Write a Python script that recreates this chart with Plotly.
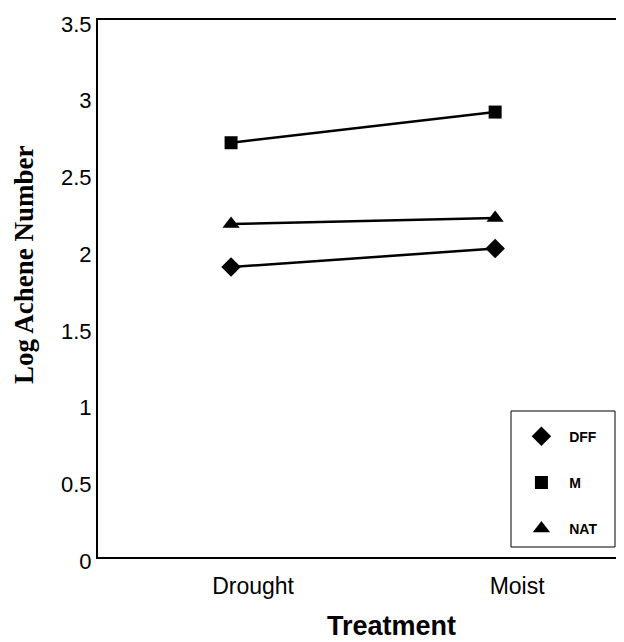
import plotly.graph_objects as go

treatments = ["Drought", "Moist"]
series_names = ["DFF", "M", "NAT"]
dff_values = [1.89, 2.01]
m_values = [2.70, 2.90]
nat_values = [2.17, 2.21]
y_tick_values = [0, 0.5, 1, 1.5, 2, 2.5, 3, 3.5]
y_tick_labels = ["0", "0.5", "1", "1.5", "2", "2.5", "3", "3.5"]

series = [
    ("DFF", dff_values, "diamond", 15),
    ("M", m_values, "square", 13),
    ("NAT", nat_values, "triangle-up", 15),
]

# page body has an 8px margin; figure is sized so the plot lands where the reference has it
OFF = 8

fig = go.Figure()
for name, vals, sym, sz in series:
    fig.add_trace(go.Scatter(
        x=treatments, y=vals, mode="lines",
        line=dict(color="black", width=2.5),
        showlegend=False, hoverinfo="skip",
    ))
for name, vals, sym, sz in series:
    fig.add_trace(go.Scatter(
        x=treatments, y=vals, mode="markers", name="\u00a0\u00a0" + name,
        marker=dict(symbol=sym, size=sz, color="black"),
        legendgroup=name,
    ))

fig.update_layout(
    width=624 - OFF, height=642 - OFF,
    margin=dict(l=98 - OFF, r=0, t=20 - OFF, b=85),
    paper_bgcolor="white", plot_bgcolor="white",
    showlegend=True,
    legend=dict(
        x=0.805, y=0.254, xanchor="left", yanchor="top",
        bgcolor="rgba(0,0,0,0)", borderwidth=0,
        tracegroupgap=25,
        font=dict(family="Liberation Sans, Arial", size=14, color="black", weight="bold"),
        itemsizing="trace",
    ),
    shapes=[dict(
        type="rect", xref="paper", yref="paper",
        x0=(511 - 98) / 526, x1=(615 - 98) / 526,
        y0=(557 - 547) / 537, y1=(557 - 411) / 537,
        line=dict(color="black", width=1), fillcolor="rgba(0,0,0,0)",
    )],
    annotations=[
        dict(text="Treatment", xref="paper", yref="paper",
             x=(391 - 98) / 526, y=(557 - 626) / 537,
             xanchor="center", yanchor="middle", showarrow=False,
             font=dict(family="Liberation Sans, Arial", size=27, color="black", weight="bold")),
        dict(text="Log Achene Number", xref="paper", yref="paper",
             x=(24 - 98) / 526, y=(557 - 265) / 537, textangle=-90,
             xanchor="center", yanchor="middle", showarrow=False,
             font=dict(family="Liberation Serif, Times New Roman", size=27, color="black", weight="bold")),
    ],
)

fig.update_xaxes(
    type="category", categoryorder="array", categoryarray=treatments,
    range=[-0.504, 1.488],
    showline=True, linecolor="black", linewidth=2, mirror=True,
    showgrid=False, zeroline=False, ticks="",
    ticklabelshift=22, ticklabelstandoff=7,
    tickfont=dict(family="Liberation Sans, Arial", size=23, color="black"),
)
fig.update_yaxes(
    range=[0, 3.5], tickvals=y_tick_values, ticktext=y_tick_labels,
    showline=True, linecolor="black", linewidth=2, mirror=False,
    showgrid=False, zeroline=False, ticks="",
    ticklabelshift=4,
    tickfont=dict(family="Liberation Sans, Arial", size=22, color="black"),
)

fig.write_html("out.html")
